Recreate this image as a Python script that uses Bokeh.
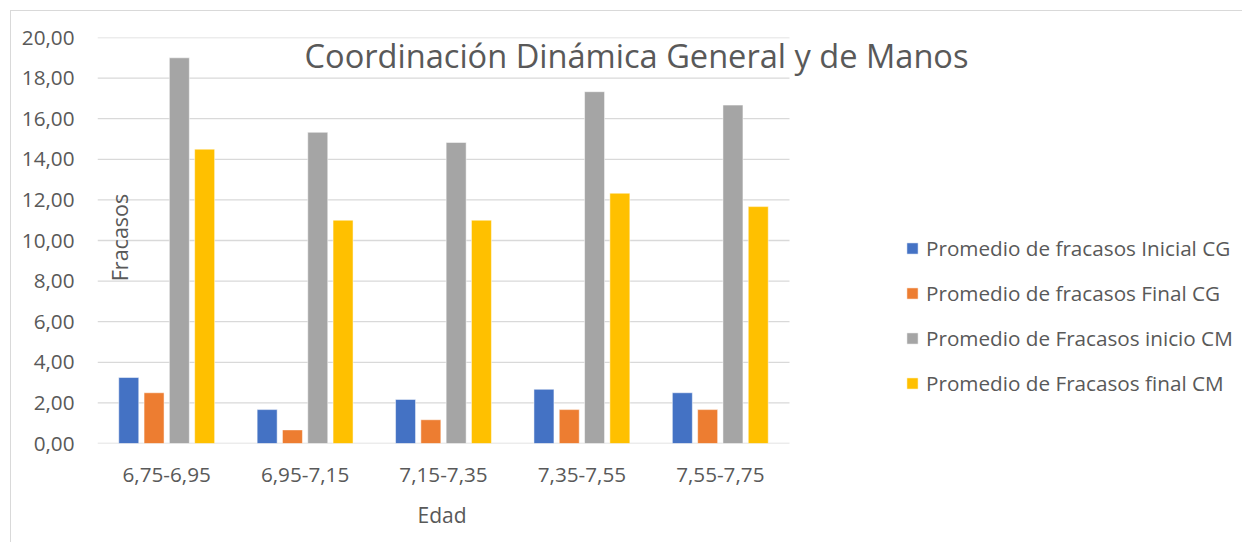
from bokeh.plotting import figure
from bokeh.models import Range1d, FixedTicker, Legend, LegendItem, Label, ColumnDataSource, Title
from bokeh.transform import dodge
from bokeh.embed import file_html
from bokeh.resources import INLINE

# ---- data ----
categories = ["6,75-6,95", "6,95-7,15", "7,15-7,35", "7,35-7,55", "7,55-7,75"]
inicial_cg = [3.25, 1.67, 2.17, 2.67, 2.50]
final_cg = [2.50, 0.67, 1.17, 1.67, 1.67]
inicio_cm = [19.00, 15.33, 14.83, 17.33, 16.67]
final_cm = [14.50, 11.00, 11.00, 12.33, 11.67]
series_names = [
    "Promedio de fracasos Inicial CG",
    "Promedio de fracasos Final CG",
    "Promedio de Fracasos inicio CM",
    "Promedio de Fracasos final CM",
]
series_colors = ["#4472C4", "#ED7D31", "#A5A5A5", "#FFC000"]
y_ticks = [0, 2, 4, 6, 8, 10, 12, 14, 16, 18, 20]
y_tick_labels = ["0,00", "2,00", "4,00", "6,00", "8,00", "10,00", "12,00", "14,00", "16,00", "18,00", "20,00"]
title_text = "Coordinación Dinámica General y de Manos"
y_title = "Fracasos"
x_title = "Edad"

# ---- layout constants ----
FONT = "Open Sans"
TXT = "#595959"
GRID = "#D9D9D9"
cat_px = 138.4
frame_w = 1140
frame_h = 406
n = len(categories)
x_pos = [i + 0.5 for i in range(n)]

src = ColumnDataSource(dict(x=x_pos, s0=inicial_cg, s1=final_cg, s2=inicio_cm, s3=final_cm))

p = figure(
    frame_width=frame_w, frame_height=frame_h,
    min_border_left=86, min_border_right=5, min_border_top=26, min_border_bottom=92,
    x_range=Range1d(0, frame_w / cat_px), y_range=Range1d(0, 20),
    output_backend="svg", toolbar_location=None,
)
p.styles = {"border-left": "1px solid #D9D9D9", "border-top": "1px solid #D9D9D9",
            "margin-left": "10px", "margin-top": "10px"}
p.outline_line_color = None
p.xgrid.visible = False
p.ygrid.visible = False

# gridlines only over the plot area
p.segment(x0=[0] * len(y_ticks), x1=[n] * len(y_ticks), y0=y_ticks, y1=y_ticks,
          line_color=GRID, line_width=1.3)

bar_w = 20 / cat_px
pitch = 25.3 / cat_px
offsets = [-1.5, -0.5, 0.5, 1.5]
items = []
for k in range(4):
    r = p.vbar(x=dodge("x", offsets[k] * pitch, range=p.x_range), top="s%d" % k, width=bar_w,
               bottom=0, source=src, fill_color=series_colors[k], line_color="white",
               line_alpha=0.5, line_width=1)
    items.append(LegendItem(label=series_names[k], renderers=[r]))

# axes
p.yaxis.ticker = FixedTicker(ticks=y_ticks)
p.yaxis.major_label_overrides = {t: l for t, l in zip(y_ticks, y_tick_labels)}
p.xaxis.ticker = FixedTicker(ticks=x_pos)
p.xaxis.major_label_overrides = {x: c for x, c in zip(x_pos, categories)}
p.xaxis.bounds = (0, n)
for ax in (p.xaxis, p.yaxis):
    ax.axis_line_color = None
    ax.major_tick_line_color = None
    ax.minor_tick_line_color = None
    ax.major_tick_out = 0
    ax.major_tick_in = 0
    ax.minor_tick_out = 0
    ax.major_label_text_font = FONT
    ax.major_label_text_font_size = "20.7px"
    ax.major_label_text_color = TXT
p.yaxis.major_label_standoff = 23
p.xaxis.major_label_standoff = 24

# x-axis title, placed under the category area
p.add_layout(Title(text=x_title, align="left", offset=320, standoff=28,
                   text_font=FONT, text_font_size="21px", text_font_style="normal",
                   text_color=TXT), "below")

# titles
p.add_layout(Label(x=(637 - 98) / cat_px, y=20 - (56 - 38) / 20.3, text=title_text,
                   text_font=FONT, text_font_size="32.6px", text_color=TXT,
                   text_align="center", text_baseline="middle"))
p.add_layout(Label(x=(120 - 98) / cat_px, y=(444 - 238) / 20.3, text=y_title, angle=1.5708,
                   text_font=FONT, text_font_size="21.5px", text_color=TXT,
                   text_align="center", text_baseline="middle"))

legend = Legend(items=items, location=(808, 46), border_line_color=None,
                background_fill_alpha=0, padding=0, margin=0,
                glyph_width=14, glyph_height=14, label_standoff=7,
                label_height=26, spacing=17,
                label_text_font=FONT, label_text_font_size="20.7px", label_text_color=TXT)
p.add_layout(legend)

open("out.html", "w").write(file_html(p, INLINE))
